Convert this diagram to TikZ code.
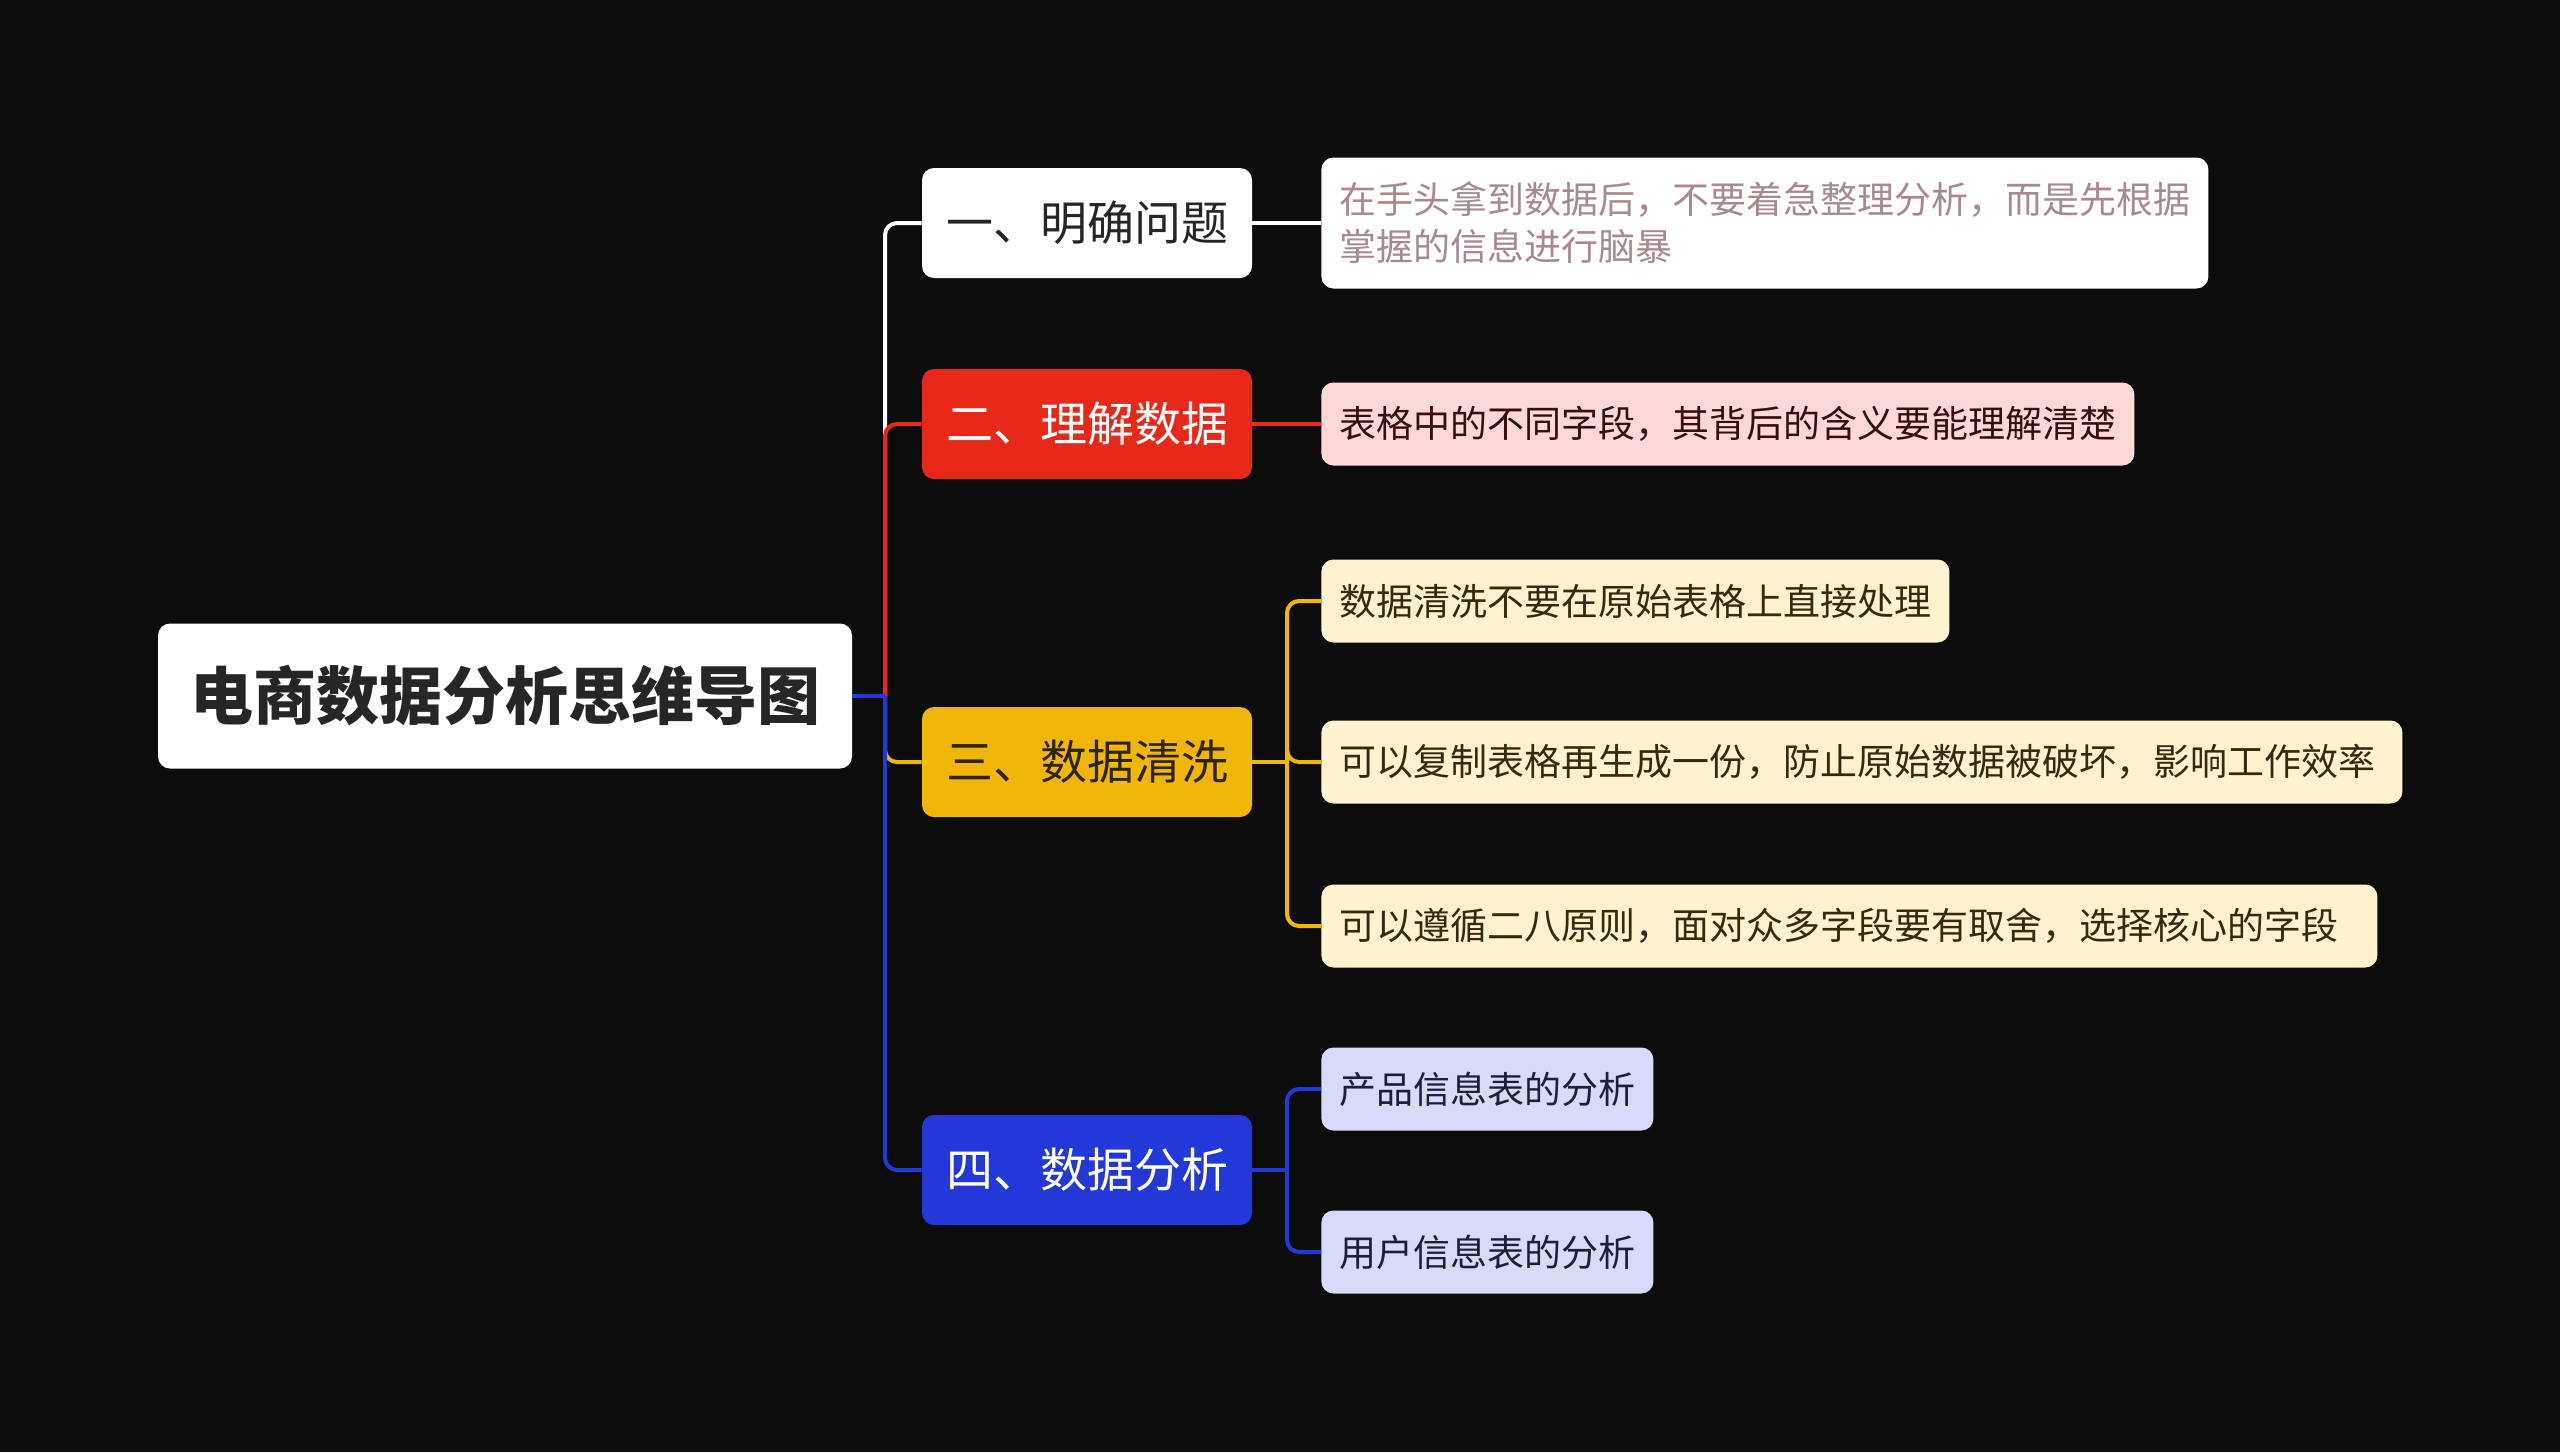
\documentclass[tikz,border=0pt]{standalone}
\usepackage{fontspec}
\setmainfont{Noto Sans CJK SC}
\definecolor{bgdark}{HTML}{0C0C0C}
\definecolor{ink}{HTML}{262626}
\definecolor{redb}{HTML}{E8291A}
\definecolor{yellowb}{HTML}{F0B70A}
\definecolor{blueb}{HTML}{2338D8}
\definecolor{yellowink}{HTML}{2E2400}
\definecolor{mauve}{HTML}{A8898E}
\definecolor{pinkleaf}{HTML}{FED9D6}
\definecolor{pinkink}{HTML}{3A0C0C}
\definecolor{creamleaf}{HTML}{FEF2CF}
\definecolor{creamink}{HTML}{352A0E}
\definecolor{lavleaf}{HTML}{D6DBFA}
\definecolor{lavink}{HTML}{1B1F3A}
\begin{document}
\begin{tikzpicture}[x=0.5pt,y=-0.5pt,
        rootbox/.style={fill=white,rounded corners=6pt,text=ink,minimum width=347pt,minimum height=72.5pt,inner sep=0pt,font=\fontsize{31.5}{36}\selectfont\bfseries},
        branchbox/.style={rounded corners=6pt,minimum width=165pt,minimum height=55pt,inner sep=0pt,font=\fontsize{23.5}{28}\selectfont},
        leafbox/.style={rounded corners=6pt,anchor=west,minimum height=41.5pt,inner xsep=9pt,inner ysep=0pt,align=left,font=\fontsize{18.5}{23.5}\selectfont},
        link/.style={line width=2pt},
        elbow/.style={link,rounded corners=6pt}]
                \fill[bgdark] (0,0) rectangle (2560,1452);
                \useasboundingbox (0,0) rectangle (2560,1452);
                \node[rootbox] (Root) at (505,696) {电商数据分析思维导图};
                \node[branchbox,fill=white,text=ink] (Clarify) at (1087,223) {一、明确问题};
                \node[branchbox,fill=redb,text=white] (Understand) at (1087,424) {二、理解数据};
                \node[branchbox,fill=yellowb,text=yellowink] (Clean) at (1087,762) {三、数据清洗};
                \node[branchbox,fill=blueb,text=white] (Analyse) at (1087,1170) {四、数据分析};
                \node[leafbox,fill=white,text=mauve,minimum height=65.5pt] (ClarifyA) at (1321,223) {在手头拿到数据后，不要着急整理分析，而是先根据\\掌握的信息进行脑暴};
                \node[leafbox,fill=pinkleaf,text=pinkink] (UnderstandA) at (1321,424) {表格中的不同字段，其背后的含义要能理解清楚};
                \node[leafbox,fill=creamleaf,text=creamink] (CleanA) at (1321,601) {数据清洗不要在原始表格上直接处理};
                \node[leafbox,fill=creamleaf,text=creamink,text width=522.5pt] (CleanB) at (1321,762) {可以复制表格再生成一份，防止原始数据被破坏，影响工作效率};
                \node[leafbox,fill=creamleaf,text=creamink,text width=510pt] (CleanC) at (1321,926) {可以遵循二八原则，面对众多字段要有取舍，选择核心的字段};
                \node[leafbox,fill=lavleaf,text=lavink] (AnalyseA) at (1321,1089) {产品信息表的分析};
                \node[leafbox,fill=lavleaf,text=lavink] (AnalyseB) at (1321,1252) {用户信息表的分析};
                \coordinate (Hub) at (885,696);
                \coordinate (CleanHub) at (1287,762);
                \coordinate (AnalyseHub) at (1287,1170);
                \draw[elbow,white] (Hub) |- (Clarify.west);
                \draw[elbow,redb] (Hub) |- (Understand.west);
                \draw[elbow,yellowb] (Hub) |- (Clean.west);
                \draw[elbow,blueb] (Hub) |- (Analyse.west);
                \draw[link,blueb] (Root.east) -- (Hub);
                \draw[link,white] (Clarify.east) -- (ClarifyA.west);
                \draw[link,redb] (Understand.east) -- (UnderstandA.west);
                \draw[link,yellowb] (Clean.east) -- (CleanHub);
                \foreach \leaf in {CleanA,CleanB,CleanC}
                    \draw[elbow,yellowb] (CleanHub) |- (\leaf.west);
                \draw[link,blueb] (Analyse.east) -- (AnalyseHub);
                \foreach \leaf in {AnalyseA,AnalyseB}
                    \draw[elbow,blueb] (AnalyseHub) |- (\leaf.west);
            \end{tikzpicture}
\end{document}
